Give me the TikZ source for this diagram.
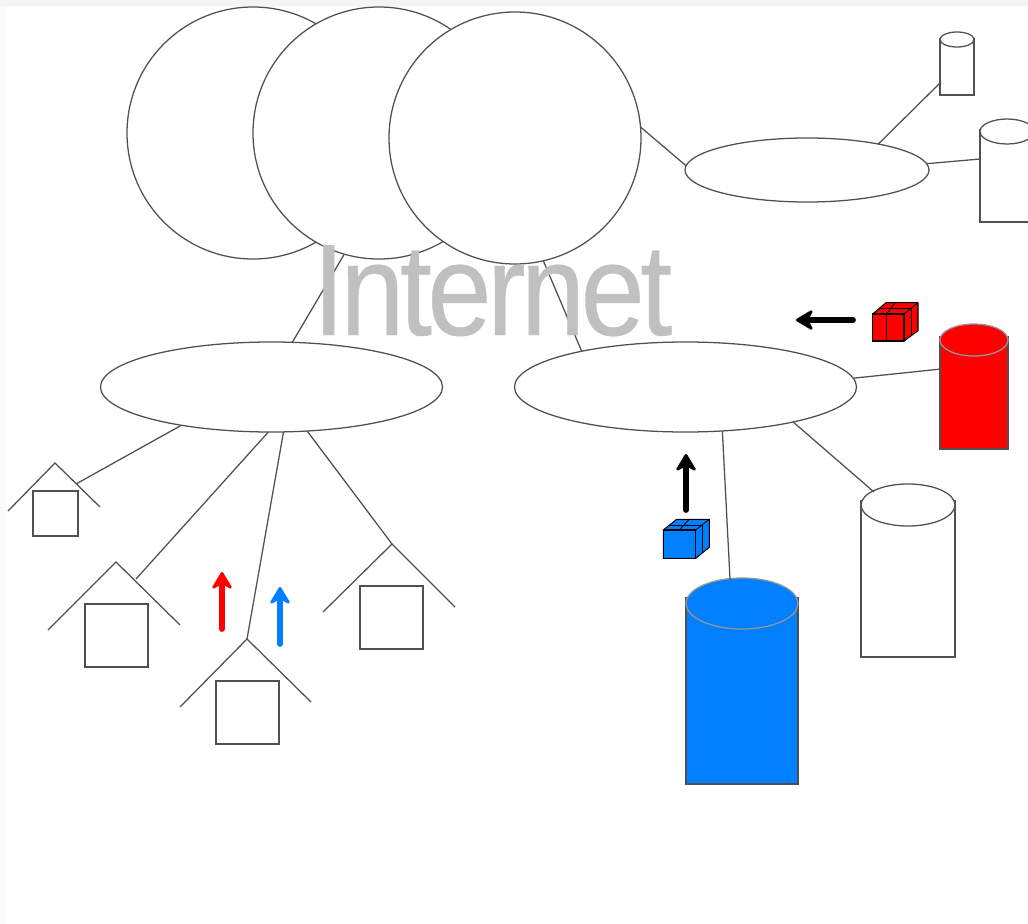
\documentclass[tikz,border=0pt]{standalone}
\usepackage{fontspec}
\setmainfont{Liberation Sans}
\newfontfamily\wordfont[LetterSpace=-4,FakeBold=0.3]{Liberation Sans}
\usetikzlibrary{arrows.meta,shapes.geometric}
\definecolor{netblue}{RGB}{0,128,255}
\definecolor{edgegray}{RGB}{80,80,80}
\definecolor{rimgray}{RGB}{150,150,150}
\definecolor{wordgray}{RGB}{192,192,192}
\tikzset{
  x=0.75pt,y=-0.75pt,
  line/.style={draw=edgegray,line width=0.95pt},
  cloud/.style={line,circle,fill=white,inner sep=0pt,outer sep=0pt,minimum size=189pt},
  hub/.style={line,ellipse,fill=white,inner sep=0pt,outer sep=0pt},
  big/.style={hub,minimum width=256.5pt,minimum height=67.5pt},
  flow/.style={line width=4.3pt,line cap=round,-{Stealth[length=15pt,width=18pt,inset=5pt,round,line width=2pt]}},
  housebox/.style={line,rectangle,fill=white,inner sep=0pt,outer sep=0pt},
  parcel/.style={draw=black,line width=0.8pt,fill=#1,line join=round},
  ribbon/.style={draw=black,line width=0.7pt},
}
\newcommand{\drum}[7]{% x left, x right, top y, lid bottom y, bottom y, colour, lid line
  \pgfmathsetmacro{\cxx}{(#1+#2)/2}\pgfmathsetmacro{\rxx}{(#2-#1)/2}\pgfmathsetmacro{\ryy}{(#4-#3)/2}\pgfmathsetmacro{\myy}{(#3+#4)/2}\pgfmathsetmacro{\syy}{#3+0.38*(#4-#3)}
  \path[line,fill=#6] (#1,\syy) -- (#1,#5) -- (#2,#5) -- (#2,\syy);
  \path[line,draw=#7,fill=#6] (\cxx,\myy) ellipse [x radius=\rxx,y radius=\ryy];
}
\begin{document}
\begin{tikzpicture}
\useasboundingbox (0,0) rectangle (1028,924);
\fill[gray!3] (0,0) rectangle (1028,924);
\fill[gray!9] (0,0) rectangle (1028,6);
\fill[white] (7,7) rectangle (1028,924);

\node[cloud] (c1) at (253,133) {};
\node[cloud] (c2) at (379,133) {};
\node[cloud] (c3) at (515,138) {};

\node[hub,minimum width=183pt,minimum height=48pt] (etop) at (807,170) {};
\node[big] (eleft) at (271.5,387) {};
\node[big] (eright) at (685.5,387) {};

\coordinate (h1) at (55,463);
\coordinate (h2) at (116,562);
\coordinate (h3) at (247,639);
\coordinate (h4) at (392,544);
\coordinate (r1) at (76,484);
\coordinate (r2) at (136,579);

% houses
\draw[line] (8,511) -- (h1) -- (100,507);
\node[housebox,minimum size=33.75pt] (b1) at (55.5,513.5) {};
\draw[line] (48,630) -- (h2) -- (180,625);
\node[housebox,minimum size=47.25pt] (b2) at (116.5,635.5) {};
\draw[line] (180,707) -- (h3) -- (311,702);
\node[housebox,minimum size=47.25pt] (b3) at (247.5,712.5) {};
\draw[line] (323,612) -- (h4) -- (455,607);
\node[housebox,minimum size=47.25pt] (b4) at (391.5,617.5) {};

% drums
\drum{940}{974}{32}{47}{95}{white}{edgegray}
\drum{980}{1034}{119}{144}{222}{white}{edgegray}
\drum{940}{1008}{324}{356}{449}{red}{rimgray}
\drum{861}{955}{484}{526}{657}{white}{edgegray}
\drum{686}{798}{578}{629}{784}{netblue}{rimgray}

\coordinate (d1) at (941,82);
\coordinate (d2) at (980,159);
\coordinate (d3) at (941,369);
\coordinate (d4) at (874,492);
\coordinate (d5) at (730,579);

% connectors
\draw[line] (c2.254.4) -- (eleft.65.6);
\draw[line] (c3.283.6) -- (eright.161.1);
\draw[line] (c3.5) -- (etop.178.6);
\draw[line] (etop.20.5) -- (d1);
\draw[line] (etop.3.3) -- (d2);
\draw[line] (eleft.203.9) -- (r1);
\draw[line] (eleft.266.1) -- (r2);
\draw[line] (eleft.285.3) -- (h3);
\draw[line] (eleft.309.3) -- (h4);
\draw[line] (eright.310.8) -- (d5);
\draw[line] (eright.342) -- (d4);
\draw[line] (eright.3) -- (d3);

\node[anchor=base,inner sep=0pt,text=wordgray,xscale=0.885,font=\wordfont\fontsize{98pt}{98pt}\selectfont] (word) at (492.5,335) {Internet};

% arrows
\coordinate (a1s) at (222,629); \coordinate (a1e) at (222,572);
\coordinate (a2s) at (280,644); \coordinate (a2e) at (280,587);
\coordinate (a3s) at (686,510); \coordinate (a3e) at (686,454);
\coordinate (a4s) at (853,320); \coordinate (a4e) at (796,320);
\draw[flow,red] (a1s) -- (a1e);
\draw[flow,netblue] (a2s) -- (a2e);
\draw[flow,black] (a3s) -- (a3e);
\draw[flow,black] (a4s) -- (a4e);

% red parcel
\path[parcel=red] (872.7,314) -- (886,302.7) -- (918,302.7) -- (918,330.7) -- (904,341) -- (872.7,341) -- cycle;
\draw[parcel=red] (872.7,314) rectangle (904,341);
\draw[ribbon] (904,314) -- (918,302.7);
\draw[ribbon] (886.7,314) -- (886.7,341);
\draw[ribbon] (911.7,308) -- (911.7,335);
\draw[ribbon] (879,308) -- (911.7,308);
\draw[ribbon] (886.7,314) -- (895,302.7);

% blue parcel
\path[parcel=netblue] (663.3,530) -- (676.7,519.3) -- (709.3,519.3) -- (709.3,547.3) -- (695.7,558.3) -- (663.3,558.3) -- cycle;
\draw[parcel=netblue] (663.3,530) rectangle (695.7,558.3);
\draw[ribbon] (695.7,530) -- (709.3,519.3);
\draw[ribbon] (702.3,525) -- (702.3,552.7);
\draw[ribbon] (670,525) -- (702.3,525);
\draw[ribbon] (679.3,530) -- (689.3,519.3);
\end{tikzpicture}
\end{document}
